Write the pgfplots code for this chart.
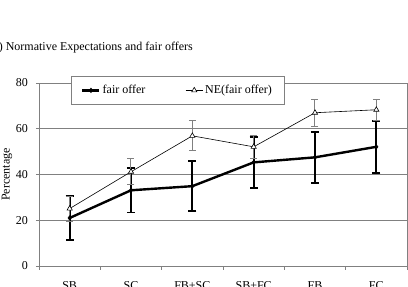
\documentclass[border=0pt]{standalone}
\usepackage{fontspec}
\setmainfont{Liberation Serif}
\usepackage{pgfplots}
\pgfplotsset{compat=1.18}
\definecolor{gridgray}{RGB}{128,128,128}
\begin{document}
\fontsize{12pt}{14pt}\selectfont
\begin{tikzpicture}[x=1pt,y=1pt]
\begin{axis}[
  at={(0pt,0pt)}, anchor=south west,
  scale only axis, width=368pt, height=183pt,
  xmin=-0.5, xmax=5.5, ymin=0, ymax=80,
  ytick={0,20,40,60,80},
  xtick={0,1,2,3,4,5},
  xticklabels={SB,SC,FB+SC,SB+FC,FB,FC},
  minor xtick={-0.5,0.5,1.5,2.5,3.5,4.5,5.5},
  major x tick style={draw=none},
  minor tick length=4pt,
  major tick length=3pt,
  tick align=outside,
  xtick pos=bottom, ytick pos=left,
  ymajorgrids, grid style={gridgray, line width=0.6pt},
  axis line style={gridgray, line width=0.6pt},
  tick style={gridgray, line width=0.6pt},
  xticklabel style={yshift=-8pt},
  yticklabel style={xshift=-4pt},
  ylabel={Percentage},
  ylabel style={at={(axis description cs:-0.087,0.5)}, anchor=center, rotate=0},
  /pgf/number format/assume math mode=true,
  legend columns=2,
  legend image post style={},
  legend style={at={(axis description cs:0.087,1.038)}, anchor=north west,
    draw=gridgray, fill=white, inner xsep=10pt, inner ysep=7pt,
    /tikz/every even column/.append style={column sep=38pt}},
  legend cell align=left,
]
\addplot[black, line width=2.4pt, mark=diamond*, mark size=2.2pt,
  mark options={line width=0.6pt},
  error bars/.cd, y dir=both, y explicit,
  error bar style={line width=1.8pt, black},
  error mark options={rotate=90, mark size=4pt, line width=1.8pt}]
  table[x=x, y=y, y error=e] {
x y e
0 21.0 9.6
1 33.1 9.7
2 34.9 11.0
3 45.3 11.2
4 47.5 11.2
5 52.1 11.3
};
\addlegendentry{fair offer}
\addplot[black, line width=0.6pt, mark=triangle*, mark size=3pt,
  mark options={fill=white, line width=0.6pt},
  error bars/.cd, y dir=both, y explicit,
  error bar style={line width=1pt, gridgray},
  error mark options={rotate=90, mark size=3.5pt, line width=1pt, gridgray}]
  table[x=x, y=y, y error=e] {
x y e
0 25.1 5.5
1 41.2 5.6
2 56.9 6.5
3 52.1 5.1
4 67.0 5.8
5 68.3 4.6
};
\addlegendentry{NE(fair offer)}
\end{axis}
\node[anchor=base east, inner sep=0pt] at (154pt,215pt) {(a) Normative Expectations and fair offers};
\pgfresetboundingbox
\useasboundingbox (-39pt,-21pt) rectangle (369pt,266pt);
\end{tikzpicture}
\end{document}
